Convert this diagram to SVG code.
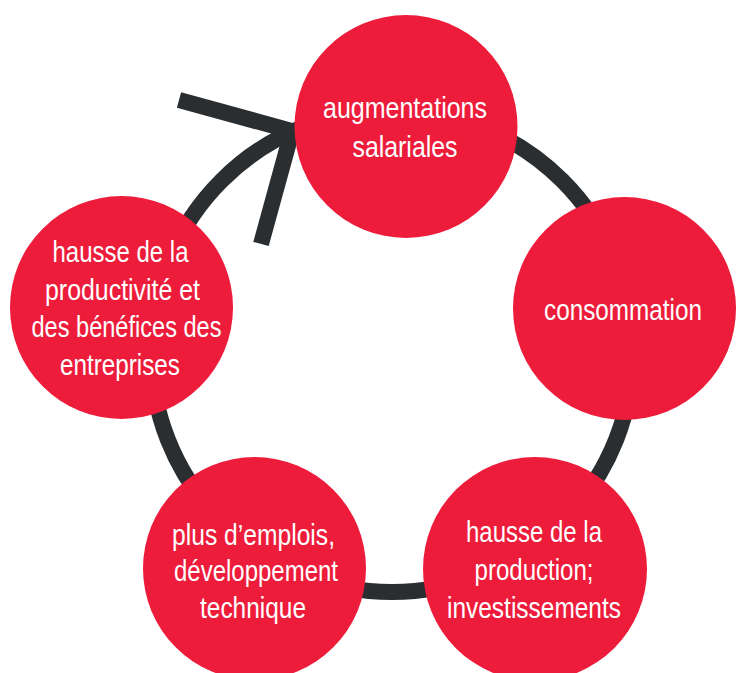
<svg xmlns="http://www.w3.org/2000/svg" width="742" height="673" viewBox="0 0 742 673">
  <style>
    .bubble { fill: #ED1C3B; }
    .label { fill: #FFFFFF; font-family: "Liberation Sans Narrow", "Liberation Sans", Arial, sans-serif; font-size: 29.5px; text-anchor: middle; }
    .cycle { fill: none; stroke: #2B2E31; stroke-width: 16; }
  </style>
  <rect width="742" height="673" fill="#FFFFFF"/>

  <!-- cycle ring and arrowhead, drawn beneath the bubbles -->
  <g id="connectors">
    <circle class="cycle" cx="392" cy="351" r="241"/>
    <polyline class="cycle" points="179,100 292,131 261,244" stroke-linejoin="miter" stroke-miterlimit="10" stroke-linecap="butt"/>
  </g>

  <g id="node-salaires">
    <circle class="bubble" cx="406" cy="126.5" r="111.5"/>
    <text class="label" x="405" y="118" textLength="164" lengthAdjust="spacingAndGlyphs">augmentations</text>
    <text class="label" x="405" y="156.5" textLength="105" lengthAdjust="spacingAndGlyphs">salariales</text>
  </g>

  <g id="node-consommation">
    <circle class="bubble" cx="624.5" cy="308.5" r="111.5"/>
    <text class="label" x="623" y="320" textLength="158" lengthAdjust="spacingAndGlyphs">consommation</text>
  </g>

  <g id="node-production">
    <circle class="bubble" cx="535" cy="569" r="112"/>
    <text class="label" x="534" y="542" textLength="136" lengthAdjust="spacingAndGlyphs">hausse de la</text>
    <text class="label" x="534" y="580" textLength="119" lengthAdjust="spacingAndGlyphs">production;</text>
    <text class="label" x="534" y="617.5" textLength="174" lengthAdjust="spacingAndGlyphs">investissements</text>
  </g>

  <g id="node-emplois">
    <circle class="bubble" cx="254.5" cy="568.5" r="111.5"/>
    <text class="label" x="253.5" y="545" textLength="163" lengthAdjust="spacingAndGlyphs">plus d’emplois,</text>
    <text class="label" x="256" y="581" textLength="164" lengthAdjust="spacingAndGlyphs">développement</text>
    <text class="label" x="253" y="617.5" textLength="106" lengthAdjust="spacingAndGlyphs">technique</text>
  </g>

  <g id="node-productivite">
    <circle class="bubble" cx="121.5" cy="307.5" r="111.5"/>
    <text class="label" x="120.5" y="262" textLength="136" lengthAdjust="spacingAndGlyphs">hausse de la</text>
    <text class="label" x="122.5" y="299.5" textLength="155" lengthAdjust="spacingAndGlyphs">productivité et</text>
    <text class="label" x="126.5" y="337" textLength="190" lengthAdjust="spacingAndGlyphs">des bénéfices des</text>
    <text class="label" x="120" y="375" textLength="120" lengthAdjust="spacingAndGlyphs">entreprises</text>
  </g>
</svg>
